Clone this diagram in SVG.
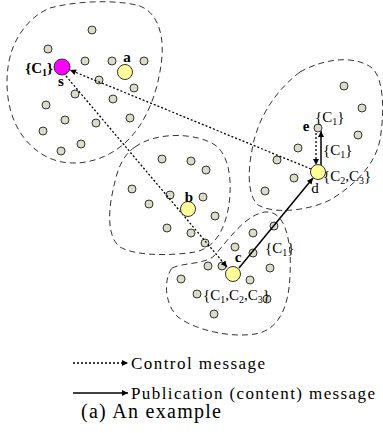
<svg xmlns="http://www.w3.org/2000/svg" width="383" height="433" viewBox="0 0 383 433">
  <defs>
    <marker id="arrow" viewBox="0 0 10 10" refX="10" refY="5" markerWidth="8" markerHeight="6" markerUnits="userSpaceOnUse" orient="auto">
      <path d="M0,0 L10,5 L0,10 Z" fill="#000"/>
    </marker>
    <style>
      .region { fill: none; stroke: #333; stroke-width: 1; stroke-dasharray: 6 4; }
      .peer { fill: #dcdcc6; stroke: #333; stroke-width: 1; }
      .key { fill: #ffff99; stroke: #333; stroke-width: 1; }
      .src { fill: #ff00ff; stroke: #333; stroke-width: 1; }
      .ctrl { fill: none; stroke: #000; stroke-width: 1.3; stroke-dasharray: 2 2; marker-end: url(#arrow); }
      .pub { fill: none; stroke: #000; stroke-width: 1.5; marker-end: url(#arrow); }
      .lbl { font-family: "Liberation Serif", "Times New Roman", serif; font-size: 15px; fill: #000; }
      .b { font-weight: bold; }
      .legend { font-family: "Liberation Serif", "Times New Roman", serif; font-size: 17px; fill: #000; }
    </style>
  </defs>
  <rect width="383" height="433" fill="#fff"/>

  <!-- dashed regions -->
  <g id="regions">
    <path class="region" d="M50,8 C80,0 120,0 140,6 C160,14 165,40 161,65 C157,95 145,125 125,143 C108,158 85,166 62,162 C40,158 20,140 12,115 C5,95 5,65 14,45 C22,27 35,14 50,8 Z"/>
    <path class="region" d="M300,72 C325,58 355,55 372,68 C385,80 384,115 380,140 C375,165 355,185 330,200 C310,210 275,215 258,205 C247,195 248,170 252,150 C256,125 270,95 300,72 Z"/>
    <path class="region" d="M135,147 C155,132 195,132 215,145 C232,157 232,190 228,210 C224,230 215,248 195,252 C170,256 135,256 120,247 C108,238 108,215 112,195 C116,175 120,157 135,147 Z"/>
    <path class="region" d="M172,268 C185,262 205,265 215,255 C228,240 245,215 265,212 C285,210 292,240 290,275 C289,305 280,330 255,334 C230,338 195,330 178,317 C165,305 163,280 172,268 Z"/>
  </g>

  <!-- ordinary peers -->
  <g id="peers">
    <circle class="peer" cx="92" cy="30" r="4"/>
    <circle class="peer" cx="48" cy="49" r="4"/>
    <circle class="peer" cx="85" cy="61" r="4"/>
    <circle class="peer" cx="112" cy="61" r="4"/>
    <circle class="peer" cx="144" cy="61" r="4"/>
    <circle class="peer" cx="99" cy="80" r="4"/>
    <circle class="peer" cx="134" cy="88" r="4"/>
    <circle class="peer" cx="75" cy="94" r="4"/>
    <circle class="peer" cx="113" cy="99" r="4"/>
    <circle class="peer" cx="46" cy="105" r="4"/>
    <circle class="peer" cx="130" cy="118" r="4"/>
    <circle class="peer" cx="65" cy="120" r="4"/>
    <circle class="peer" cx="96" cy="123" r="4"/>
    <circle class="peer" cx="43" cy="131" r="4"/>
    <circle class="peer" cx="81" cy="144" r="4"/>
    <circle class="peer" cx="61" cy="151" r="4"/>

    <circle class="peer" cx="344" cy="86" r="4"/>
    <circle class="peer" cx="362" cy="108" r="4"/>
    <circle class="peer" cx="358" cy="135" r="4"/>
    <circle class="peer" cx="298" cy="148" r="4"/>
    <circle class="peer" cx="277" cy="160" r="4"/>
    <circle class="peer" cx="294" cy="178" r="4"/>
    <circle class="peer" cx="265" cy="191" r="4"/>

    <circle class="peer" cx="162" cy="159" r="4"/>
    <circle class="peer" cx="191" cy="161" r="4"/>
    <circle class="peer" cx="206" cy="170" r="4"/>
    <circle class="peer" cx="132" cy="189" r="4"/>
    <circle class="peer" cx="170" cy="195" r="4"/>
    <circle class="peer" cx="203" cy="197" r="4"/>
    <circle class="peer" cx="149" cy="204" r="4"/>
    <circle class="peer" cx="215" cy="216" r="4"/>
    <circle class="peer" cx="167" cy="228" r="4"/>
    <circle class="peer" cx="191" cy="233" r="4"/>
    <circle class="peer" cx="205" cy="243" r="4"/>
    <circle class="peer" cx="235" cy="247" r="4"/>

    <circle class="peer" cx="274" cy="226" r="4"/>
    <circle class="peer" cx="253" cy="233" r="4"/>
    <circle class="peer" cx="253" cy="253" r="4"/>
    <circle class="peer" cx="222" cy="266" r="4"/>
    <circle class="peer" cx="208" cy="266" r="4"/>
    <circle class="peer" cx="270" cy="268" r="4"/>
    <circle class="peer" cx="181" cy="279" r="4"/>
    <circle class="peer" cx="250" cy="280" r="4"/>
    <circle class="peer" cx="197" cy="294" r="4"/>
    <circle class="peer" cx="267" cy="299" r="4"/>
    <circle class="peer" cx="214" cy="314" r="4"/>
  </g>

  <!-- connectors -->
  <g id="connectors">
    <line class="ctrl" x1="311" y1="169" x2="70" y2="70"/>
    <line class="ctrl" x1="66" y1="76" x2="227" y2="267"/>
    <line class="pub" x1="239" y1="268" x2="313" y2="178"/>
    <line class="ctrl" x1="316" y1="133" x2="316" y2="165"/>
    <line class="pub" x1="321" y1="165" x2="321" y2="131"/>
  </g>

  <g id="node-s">
    <circle class="src" cx="62" cy="67" r="8"/>
    <text class="lbl b" x="53" y="73" text-anchor="end">{C<tspan font-size="10" dy="3">1</tspan><tspan dy="-3">}</tspan></text>
    <text class="lbl b" x="61" y="86" text-anchor="middle">s</text>
  </g>
  <g id="node-a">
    <circle class="key" cx="125" cy="72" r="7.5"/>
    <text class="lbl b" x="127" y="62" text-anchor="middle">a</text>
  </g>
  <g id="node-b">
    <circle class="key" cx="188" cy="209" r="7.5"/>
    <text class="lbl b" x="189" y="202" text-anchor="middle">b</text>
  </g>
  <g id="node-c">
    <circle class="key" cx="233" cy="274" r="7.5"/>
    <text class="lbl b" x="238" y="262" text-anchor="middle">c</text>
    <text class="lbl" x="203" y="300">{C<tspan font-size="10" dy="3">1</tspan><tspan dy="-3">,C</tspan><tspan font-size="10" dy="3">2</tspan><tspan dy="-3">,C</tspan><tspan font-size="10" dy="3">3</tspan><tspan dy="-3">}</tspan></text>
    <text class="lbl" x="265" y="253">{C<tspan font-size="10" dy="3">1</tspan><tspan dy="-3">}</tspan></text>
  </g>
  <g id="node-d">
    <circle class="key" cx="318" cy="172" r="7.5"/>
    <text class="lbl" x="323" y="181">{C<tspan font-size="10" dy="3">2</tspan><tspan dy="-3">,C</tspan><tspan font-size="10" dy="3">3</tspan><tspan dy="-3">}</tspan></text>
    <text class="lbl" x="315" y="193" text-anchor="middle">d</text>
    <text class="lbl" x="323" y="155">{C<tspan font-size="10" dy="3">1</tspan><tspan dy="-3">}</tspan></text>
  </g>
  <g id="node-e">
    <circle class="peer" cx="318" cy="128" r="4"/>
    <text class="lbl b" x="306" y="131" text-anchor="middle">e</text>
    <text class="lbl" x="315" y="122">{C<tspan font-size="10" dy="3">1</tspan><tspan dy="-3">}</tspan></text>
  </g>

  <!-- legend -->
  <g id="legend">
    <line class="ctrl" x1="73" y1="363" x2="128" y2="363"/>
    <text class="legend" x="131" y="369" textLength="134" lengthAdjust="spacing">Control message</text>
    <line class="pub" x1="73" y1="393" x2="128" y2="393"/>
    <text class="legend" x="131" y="399" textLength="244" lengthAdjust="spacing">Publication (content) message</text>
    <text class="legend" x="81" y="418" style="font-size:20px" textLength="140" lengthAdjust="spacing">(a)  An example</text>
  </g>
</svg>
